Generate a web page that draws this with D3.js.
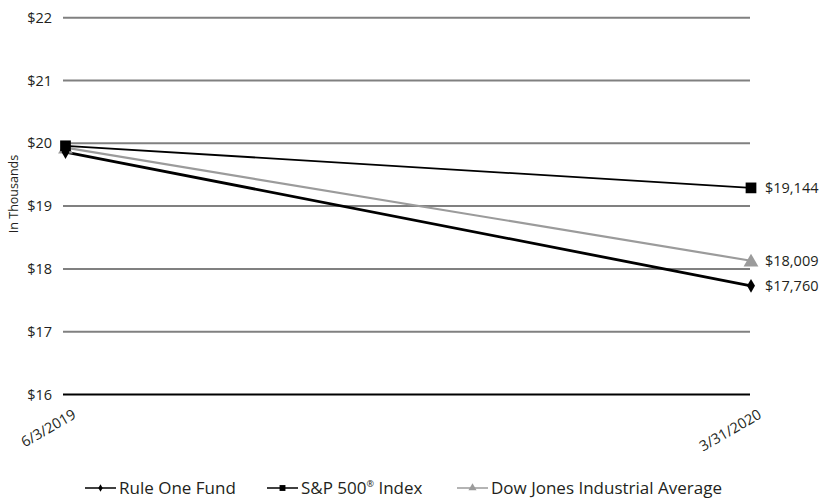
<!DOCTYPE html>
<html><head><meta charset="utf-8">
<script src="https://cdn.jsdelivr.net/npm/d3@7"></script>
<style>
html,body{margin:0;padding:0;background:#fff;}
svg{display:block;font-family:"Open Sans", sans-serif;}
</style></head>
<body><svg id="chart" width="823" height="500"></svg>
<script>
const dates = ["6/3/2019", "3/31/2020"];
const ruleOne = [19.86, 17.73];
const sp500 = [19.96, 19.29];
const djia = [19.93, 18.13];
const endLabels = ["$17,760", "$19,144", "$18,009"];
const yTicks = [16, 17, 18, 19, 20, 21, 22];
const seriesNames = ["Rule One Fund", "S&P 500", "Dow Jones Industrial Average"];

const series = [
  {name: seriesNames[0], values: ruleOne, label: endLabels[0], color: "#000", symbol: d3.symbolDiamond, size: 55, width: 2.8},
  {name: seriesNames[1], values: sp500, label: endLabels[1], color: "#000", symbol: d3.symbolSquare, size: 115, width: 1.8},
  {name: seriesNames[2], values: djia, label: endLabels[2], color: "#9b9b9b", symbol: d3.symbolTriangle, size: 95, width: 2.2}
];

const svg = d3.select("#chart");
const x = d3.scalePoint().domain(dates).range([65.5, 751]);
const y = d3.scaleLinear().domain([16, 22]).range([394.5, 17.7]);
const gx0 = 63, gx1 = 750;
const txt = "#231f20";

// gridlines
svg.append("g").selectAll("line").data(yTicks).join("line")
  .attr("x1", gx0).attr("x2", gx1)
  .attr("y1", d => y(d)).attr("y2", d => y(d))
  .attr("stroke", d => d === 16 ? "#000" : "#808080")
  .attr("stroke-width", 2);

// y axis labels
const yAxis = d3.axisLeft(y).tickValues(yTicks).tickFormat(d => "$" + d).tickSize(0).tickPadding(0);
const gy = svg.append("g").attr("transform", "translate(52,0)").call(yAxis);
gy.select(".domain").remove();
gy.selectAll("text").attr("font-size", 14.5).attr("fill", txt).attr("font-family", "'Open Sans', sans-serif");

// x axis labels
const xAxis = d3.axisBottom(x).tickSize(0).tickPadding(0);
const gxA = svg.append("g").call(xAxis);
gxA.select(".domain").remove();
gxA.selectAll(".tick").attr("transform", d => `translate(${x(d) + 9},413)`);
gxA.selectAll("text")
  .attr("font-size", 14.5).attr("fill", txt).attr("font-family", "'Open Sans', sans-serif")
  .attr("text-anchor", "end").attr("y", 0).attr("dy", "0.35em")
  .attr("transform", "rotate(-30)");

// y title
svg.append("text").attr("transform", "translate(18,194) rotate(-90)")
  .attr("text-anchor", "middle").attr("font-size", 12.5).attr("fill", txt)
  .text("In Thousands");

// lines
const line = d3.line().x((d, i) => x(dates[i])).y(d => y(d));
const order = [2, 0, 1];
order.forEach(k => {
  const s = series[k];
  svg.append("path").attr("d", line(s.values)).attr("fill", "none")
    .attr("stroke", s.color).attr("stroke-width", s.width);
});
order.forEach(k => {
  const s = series[k];
  svg.append("g").selectAll("path").data(s.values).join("path")
    .attr("d", d3.symbol().type(s.symbol).size(s.size))
    .attr("transform", (d, i) => `translate(${x(dates[i])},${y(d) + (k === 2 ? 1.5 : 0)})`)
    .attr("fill", s.color);
  const last = s.values[s.values.length - 1];
  svg.append("text").attr("x", x(dates[1]) + 14).attr("y", y(last)).attr("dy", "0.36em")
    .attr("font-size", 14.5).attr("fill", txt).text(s.label);
});

// legend
const legX = [85, 267, 457];
series.forEach((s, i) => {
  const g = svg.append("g").attr("transform", `translate(${legX[i]},488)`);
  g.append("line").attr("x1", 0).attr("x2", 31).attr("stroke", s.color).attr("stroke-width", 1.5);
  g.append("path").attr("d", d3.symbol().type(s.symbol).size(s.size * 0.3)).attr("transform", "translate(15.5,0)").attr("fill", s.color);
  const t = g.append("text").attr("x", 34).attr("y", 6).attr("font-size", 17).attr("fill", txt).text(s.name);
  if (i === 1) {
    t.append("tspan").attr("font-size", 9).attr("dy", -7).text("\u00AE");
    t.append("tspan").attr("dy", 7).text(" Index");
  }
});
</script></body></html>
